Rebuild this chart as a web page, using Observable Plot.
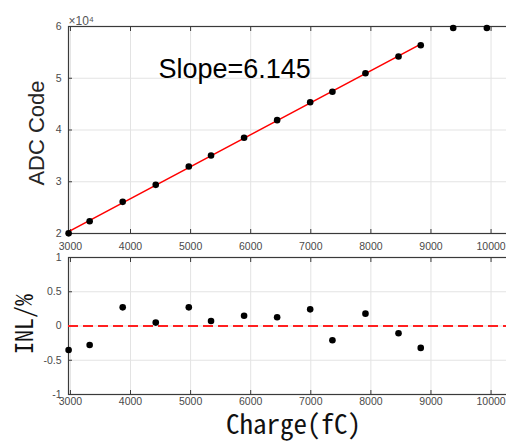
<!DOCTYPE html>
<html>
<head>
<meta charset="utf-8">
<script src="https://cdn.jsdelivr.net/npm/d3@7"></script>
<script src="https://cdn.jsdelivr.net/npm/@observablehq/plot@0.6"></script>
<style>
  html, body { margin: 0; padding: 0; background: #fff; }
  #wrap { position: relative; width: 506px; height: 442px; overflow: hidden; background: #fff; }
  #wrap svg { position: absolute; left: 0; }
</style>
</head>
<body>
<div id="wrap"></div>
<script>
// Charge (fC) for each measurement
const charge = [2970, 3320, 3870, 4420, 4970, 5340, 5890, 6440, 6990, 7360, 7910, 8460, 8830, 9370, 9930];
// ADC code for each measurement
const adcCode = [20030, 22380, 26120, 29400, 32950, 35070, 38490, 41900, 45370, 47380, 50980, 54200, 56390, 59700, 59700];
// INL (%) for the linear-range measurements (first 13)
const inl = [-0.35, -0.277, 0.272, 0.05, 0.272, 0.073, 0.15, 0.127, 0.243, -0.208, 0.18, -0.106, -0.32];
const nLinear = 13;
const xTicks = [3000, 4000, 5000, 6000, 7000, 8000, 9000, 10000];
const adcTicks = [20000, 30000, 40000, 50000, 60000];
const inlTicks = [-1, -0.5, 0, 0.5, 1];
const slopeLabel = "Slope=6.145";

const adcData = charge.map((c, i) => ({charge: c, adc: adcCode[i]}));
const linearData = adcData.slice(0, nLinear);
const inlData = inl.map((v, i) => ({charge: charge[i], inl: v}));

const W = 506;
const xDomain = [2968, 10490];
const tickColor = "#4a4a4a";
const frameColor = "#3a3a3a";
const gridColor = "#e3e3e3";
const sans = "Liberation Sans, Arial, sans-serif";
const mono = "Noto Sans Mono CJK SC, Noto Sans CJK SC, monospace";
const plain = d => String(d);

const topPlot = Plot.plot({
  width: W, height: 256,
  marginLeft: 68, marginRight: -14, marginTop: 26, marginBottom: 23,
  style: {background: "transparent", overflow: "hidden", fontFamily: sans, fontSize: "10.5px", color: tickColor},
  x: {domain: xDomain},
  y: {domain: [20000, 60000]},
  marks: [
    Plot.gridX(xTicks, {stroke: gridColor, strokeOpacity: 1}),
    Plot.gridY(adcTicks, {stroke: gridColor, strokeOpacity: 1}),
    Plot.axisX(xTicks, {anchor: "bottom", tickSize: -4, tickPadding: 13, tickFormat: plain, label: null, stroke: frameColor, fill: tickColor}),
    Plot.axisX(xTicks, {anchor: "top", tickSize: -4, tickFormat: () => "", label: null, stroke: frameColor}),
    Plot.axisY(adcTicks, {anchor: "left", tickSize: -4, tickPadding: 11, tickFormat: d => String(d / 10000), label: null, stroke: frameColor, fill: tickColor}),
    Plot.frame({stroke: frameColor, strokeWidth: 1.2}),
    Plot.linearRegressionY(linearData, {x: "charge", y: "adc", ci: 0, stroke: "#ff0000", strokeWidth: 1.6}),
    Plot.dot(adcData, {x: "charge", y: "adc", r: 3.3, fill: "#000", stroke: "none"}),
    Plot.text([slopeLabel], {text: d => d, frameAnchor: "top-left", textAnchor: "start", lineAnchor: "middle", dx: 90, dy: 43, fontSize: 27, fontFamily: sans, fill: "#000"}),
    Plot.text(["×10⁴"], {text: d => d, frameAnchor: "top-left", textAnchor: "start", lineAnchor: "bottom", dx: 0, dy: -2, fontSize: 12, fontFamily: sans, fill: "#555"}),
    Plot.text(["ADC Code"], {text: d => d, frameAnchor: "left", rotate: -90, textAnchor: "middle", lineAnchor: "middle", dx: -32, dy: 3, fontSize: 22, fontFamily: sans, fill: "#262626"})
  ]
});
topPlot.style.top = "0px";

const bottomPlot = Plot.plot({
  width: W, height: 202,
  marginLeft: 68, marginRight: -14, marginTop: 17, marginBottom: 48,
  style: {background: "transparent", overflow: "hidden", fontFamily: sans, fontSize: "10.5px", color: tickColor},
  x: {domain: xDomain},
  y: {domain: [-1, 1]},
  marks: [
    Plot.gridX(xTicks, {stroke: gridColor, strokeOpacity: 1}),
    Plot.gridY(inlTicks, {stroke: gridColor, strokeOpacity: 1}),
    Plot.axisX(xTicks, {anchor: "bottom", tickSize: -4, tickPadding: 7, tickFormat: plain, label: null, stroke: frameColor, fill: tickColor}),
    Plot.axisX(xTicks, {anchor: "top", tickSize: -4, tickFormat: () => "", label: null, stroke: frameColor}),
    Plot.axisY(inlTicks, {anchor: "left", tickSize: -4, tickPadding: 11, tickFormat: plain, label: null, stroke: frameColor, fill: tickColor}),
    Plot.frame({stroke: frameColor, strokeWidth: 1.2}),
    Plot.ruleY([0], {stroke: "#ff2020", strokeWidth: 2, strokeDasharray: "10,5"}),
    Plot.dot(inlData, {x: "charge", y: "inl", r: 3.3, fill: "#000", stroke: "none"}),
    Plot.text(["INL/%"], {text: d => d, frameAnchor: "left", rotate: -90, textAnchor: "middle", lineAnchor: "middle", dx: -43, dy: -2, fontSize: 24, fontFamily: mono, fill: "#111"}),
    Plot.text(["Charge(fC)"], {text: d => d, frameAnchor: "bottom", textAnchor: "middle", lineAnchor: "middle", dx: -1, dy: 31, fontSize: 27, fontFamily: mono, fill: "#111"})
  ]
});
bottomPlot.style.top = "240px";

const wrap = document.getElementById("wrap");
wrap.appendChild(topPlot);
wrap.appendChild(bottomPlot);
</script>
</body>
</html>
